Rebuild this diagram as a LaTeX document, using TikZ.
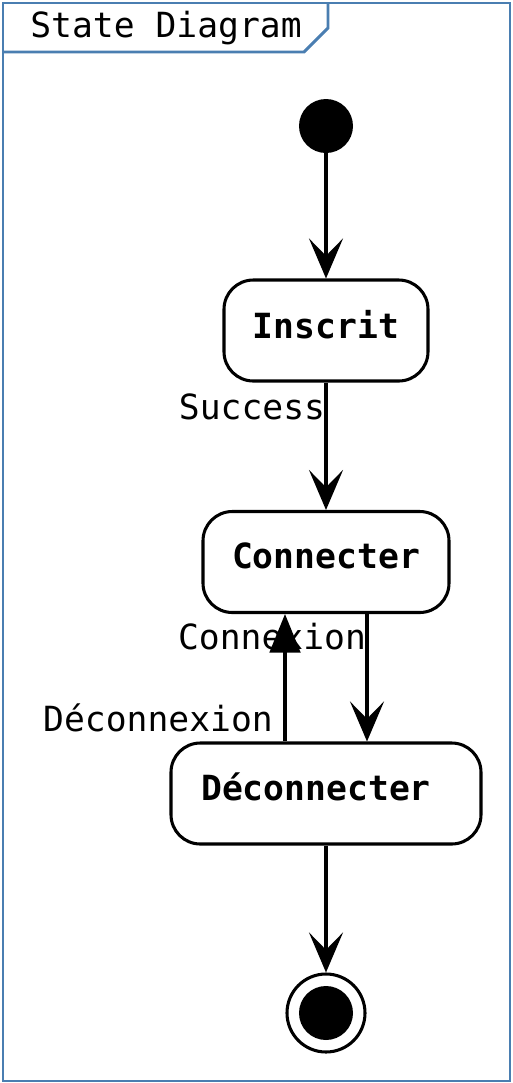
\documentclass[tikz,border=0pt]{standalone}
\usepackage{fontspec}
\setmainfont{DejaVu Sans Mono}
\usetikzlibrary{arrows.meta}

\definecolor{framecol}{RGB}{74,126,177}

\tikzset{
  state/.style={draw, line width=2.3pt, rounded corners=22pt, minimum height=75.75pt, inner sep=0pt},
  trans/.style={line width=2.3pt, -{Stealth[length=30pt, width=25.5pt, inset=13pt]}},
  back/.style={line width=2.3pt, -{Triangle[length=29pt, width=23pt]}},
  lbl/.style={inner sep=0.75pt}
}

\begin{document}
\begin{tikzpicture}[x=0.75pt,y=0.75pt,yscale=-1,xscale=1,font=\fontsize{26}{30}\selectfont]
        \useasboundingbox (0,0) rectangle (512,1083);

        %Frame
        \draw [framecol, line width=2.2pt] (3,3) rectangle (510,1081);
        %Title tab
        \draw [framecol, line width=2.2pt] (3,52) -- (304,52) -- (328,28) -- (328,3);
        \node (title) [lbl] at (166,28) {State Diagram};

        %Initial state
        \node (init) [circle, fill=black, minimum size=40.5pt, inner sep=0pt] at (326,126) {};
        %States
        \node (inscrit) [state, minimum width=153pt] at (326,330.5) {};
        \node (inscritlbl) [lbl] at (326,325) {\bfseries Inscrit};
        \node (conn) [state, minimum width=184.5pt] at (326,562) {};
        \node (connlbl) [lbl] at (326,556) {\bfseries Connecter};
        \node (deco) [state, minimum width=232.5pt] at (326,793.5) {};
        \node (decolbl) [lbl] at (316,787) {\bfseries Déconnecter};
        %Final state
        \node (final) [circle, draw, line width=2.3pt, minimum size=58.5pt, inner sep=0pt] at (326,1013) {};
        \node (finaldot) [circle, fill=black, minimum size=40.5pt, inner sep=0pt] at (final) {};

        %Transitions
        \coordinate (dn) at (367,0);
        \coordinate (up) at (285,0);
        \draw [trans] (init) -- (inscrit);
        \draw [trans] (inscrit) -- (conn);
        \draw [trans] (conn.south -| dn) -- (deco.north -| dn);
        \draw [back] (deco.north -| up) -- (conn.south -| up);
        \draw [trans] (deco) -- (final);

        %Labels
        \node (success) [lbl] at (252,407) {Success};
        \node (connexion) [lbl] at (272,637) {Connexion};
        \node (deconnexion) [lbl] at (158,718) {Déconnexion};
\end{tikzpicture}
\end{document}
